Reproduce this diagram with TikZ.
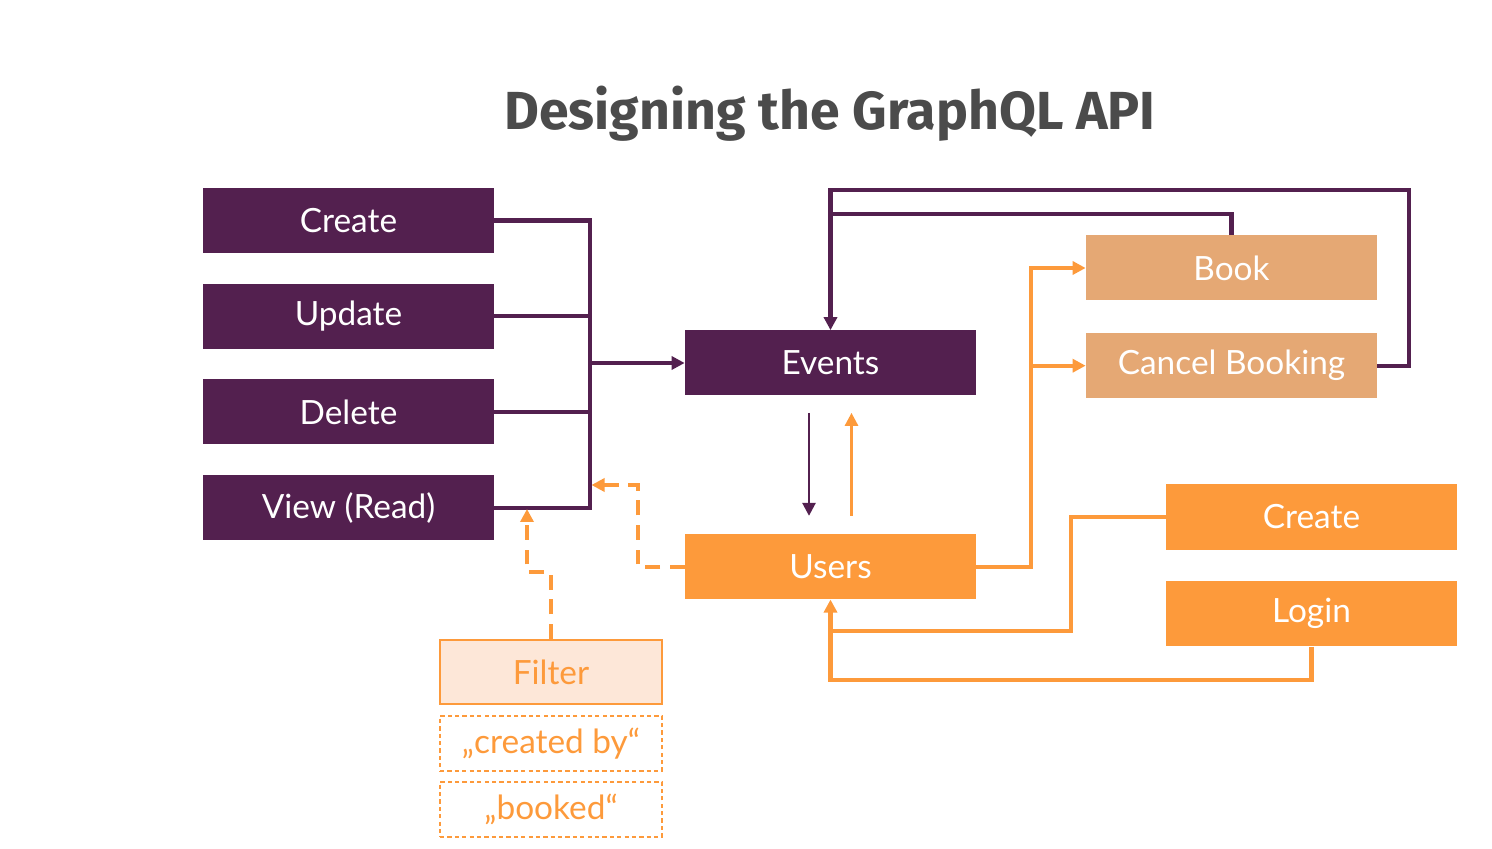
\documentclass[tikz,border=0pt]{standalone}
\usepackage{fontspec}
\setmainfont{Lato}
\newfontfamily\titlefont{Fira Sans}
\usetikzlibrary{arrows.meta,positioning,calc}

\definecolor{plum}{HTML}{53204F}
\definecolor{tang}{HTML}{FD9A3B}
\definecolor{sand}{HTML}{E5A874}
\definecolor{peach}{HTML}{FDE7D8}
\definecolor{slate}{HTML}{4B4B4B}

\begin{document}
\begin{tikzpicture}[node distance=0.6cm, >={Triangle[length=0.26cm,width=0.26cm]},
  apibox/.style={minimum width=5.82cm, minimum height=1.3cm, inner sep=0pt, text=white, font=\fontsize{19}{21}\selectfont},
  purplebox/.style={apibox, fill=plum},
  orangebox/.style={apibox, fill=tang},
  bookbox/.style={apibox, fill=sand},
  filterbox/.style={apibox, minimum width=4.44cm, minimum height=1.28cm, fill=peach, draw=tang, line width=1.3pt, text=tang},
  optbox/.style={filterbox, fill=none, minimum height=1.1cm, dash pattern=on 2.4pt off 1.8pt, line width=1pt},
  plumline/.style={draw=plum, line width=2.3pt},
  tangline/.style={draw=tang, line width=2.3pt},
  dashline/.style={tangline, dash pattern=on 8.5pt off 5.5pt}]
  \useasboundingbox (0,0) rectangle (29.84,-16.98);

  \node[font=\titlefont\bfseries\fontsize{30.5}{33}\selectfont, text=slate, anchor=base] (title) at (16.6,-2.6) {Designing the GraphQL API};

  % event operations
  \node[purplebox] (create) at (6.97,-4.41) {Create};
  \node[purplebox, below=of create] (update) {Update};
  \node[purplebox, below=of update] (delete) {Delete};
  \node[purplebox, below=of delete] (view) {View (Read)};

  \node[purplebox] (events) at (16.61,-7.26) {Events};
  \node[orangebox, below=2.76cm of events] (users) {Users};

  \node[bookbox] (book) at (24.63,-5.36) {Book};
  \node[bookbox, below=0.64cm of book] (cancel) {Cancel Booking};

  \node[orangebox] (ucreate) at (26.23,-10.34) {Create};
  \node[orangebox, below=0.62cm of ucreate] (login) {Login};

  \node[filterbox] (filter) at (11.02,-13.44) {Filter};
  \node[optbox, below=0.2cm of filter] (createdby) {„created by“};
  \node[optbox, below=0.18cm of createdby] (booked) {„booked“};

  % purple connectors
  \coordinate (bus) at (11.8,-7.26);
  \draw[plumline] (create.east) -- (create.east -| bus) -- (view.east -| bus) -- (view.east);
  \draw[plumline] (update.east) -- (update.east -| bus);
  \draw[plumline] (delete.east) -- (delete.east -| bus);
  \draw[plumline, ->] (bus) -- (events.west);

  \coordinate (loop) at (28.18,-3.8);
  \coordinate (bookjoin) at (16.61,-4.28);
  \draw[plumline, ->] (cancel.east) -| (loop) -| (events.north);
  \draw[plumline] (book.north) |- (bookjoin);

  \coordinate (downtop) at ($(events.south)+(-0.43,-0.34)$);
  \coordinate (downend) at ($(users.north)+(-0.43,0.36)$);
  \coordinate (uptop) at ($(events.south)+(0.42,-0.34)$);
  \coordinate (upend) at ($(users.north)+(0.42,0.36)$);
  \draw[draw=plum, line width=1.5pt, ->] (downtop) -- (downend);
  \draw[draw=tang, line width=1.5pt, ->] (upend) -- (uptop);

  % orange connectors
  \draw[tangline, ->] (users.east) -| ($(book.west)+(-1.1,0)$) -- (book.west);
  \draw[tangline, ->] ($(cancel.west)+(-1.1,0)$) -- (cancel.west);
  \draw[tangline] (ucreate.west) -- ++(-1.9,0) |- ($(users.south)+(0,-0.62)$);
  \draw[tangline, ->] (login.south) |- ($(users.south)+(0,-1.6)$) -- (users.south);

  % filter
  \coordinate (busin) at (11.83,-9.7);
  \coordinate (viewin) at (10.54,-10.18);
  \draw[dashline, ->] (users.west) -- ++(-0.94,0) |- (busin);
  \draw[dashline, ->] (filter.north) -- ++(0,1.34) -| (viewin);
\end{tikzpicture}
\end{document}
